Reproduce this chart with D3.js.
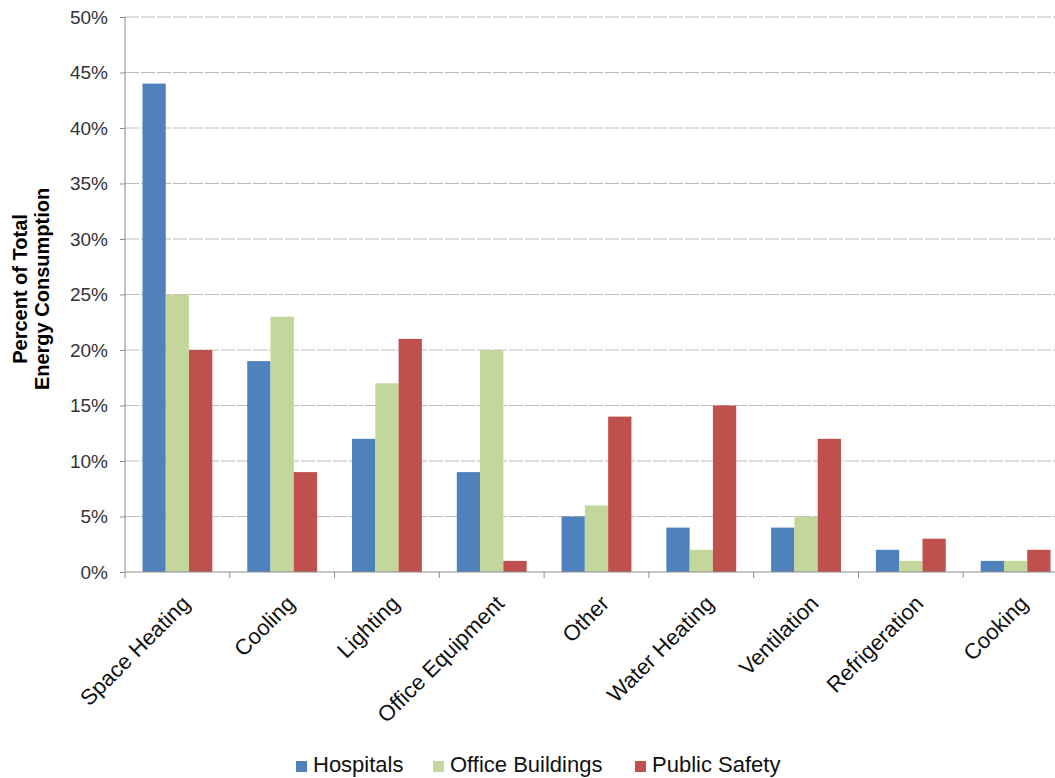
<!DOCTYPE html>
<html>
<head>
<meta charset="utf-8">
<script src="https://cdn.jsdelivr.net/npm/d3@7"></script>
<style>
  html, body { margin: 0; padding: 0; background: #fff; }
  svg { display: block; font-family: "Liberation Sans", Arial, sans-serif; }
</style>
</head>
<body>
<svg id="chart" width="1055" height="778"></svg>
<script>
// Energy end-use shares by building type
const categories = ["Space Heating", "Cooling", "Lighting", "Office Equipment", "Other",
                    "Water Heating", "Ventilation", "Refrigeration", "Cooking"];
const seriesNames = ["Hospitals", "Office Buildings", "Public Safety"];
const hospitals       = [44, 19, 12, 9, 5, 4, 4, 2, 1];
const officeBuildings = [25, 23, 17, 20, 6, 2, 5, 1, 1];
const publicSafety    = [20, 9, 21, 1, 14, 15, 12, 3, 2];
const yTicks = [0, 5, 10, 15, 20, 25, 30, 35, 40, 45, 50];
const colors = ["#4F81BD", "#C3D69B", "#C0504D"];

const seriesValues = [hospitals, officeBuildings, publicSafety];

const svg = d3.select("#chart");
const plotLeft = 125, plotRight = 1068, plotTop = 17, plotBottom = 572;

const x = d3.scaleBand().domain(categories).range([plotLeft, plotRight]).paddingInner(0).paddingOuter(0);
const barGap = 1.5; // gap width relative to one bar
const x1 = d3.scaleBand().domain(seriesNames)
  .range([x.bandwidth() * (barGap / 2) / (3 + barGap), x.bandwidth() * (1 - (barGap / 2) / (3 + barGap))]);
const y = d3.scaleLinear().domain([0, 50]).range([plotBottom, plotTop]);

// Horizontal gridlines
svg.append("g").selectAll("line").data(yTicks.filter(d => d > 0)).join("line")
  .attr("x1", plotLeft).attr("x2", plotRight)
  .attr("y1", d => y(d)).attr("y2", d => y(d))
  .attr("stroke", "#bdbdbd").attr("stroke-width", 1)
  .attr("stroke-dasharray", "14,2");

// Bars
const groups = svg.append("g").selectAll("g").data(categories).join("g")
  .attr("transform", d => `translate(${x(d)},0)`);
groups.selectAll("rect")
  .data((c, i) => seriesNames.map((s, j) => ({ s, v: seriesValues[j][i], j })))
  .join("rect")
  .attr("x", d => x1(d.s))
  .attr("width", x1.bandwidth())
  .attr("y", d => y(d.v))
  .attr("height", d => y(0) - y(d.v))
  .attr("fill", d => colors[d.j]);

// Y axis
const yAxis = d3.axisLeft(y).tickValues(yTicks).tickFormat(d => d + "%").tickSize(5).tickPadding(12);
const gy = svg.append("g").attr("transform", `translate(${plotLeft},0)`).call(yAxis);
gy.select(".domain").attr("stroke", "#8c8c8c").attr("d", `M0,${plotTop}V${plotBottom}`);
gy.selectAll(".tick line").attr("stroke", "#8c8c8c");
gy.selectAll(".tick text").attr("font-size", 19).attr("fill", "#333")
  .attr("font-family", "'Liberation Sans', Arial, sans-serif");

// X axis with category boundary ticks
svg.append("line").attr("x1", plotLeft).attr("x2", plotRight).attr("y1", plotBottom).attr("y2", plotBottom)
  .attr("stroke", "#8c8c8c");
svg.append("g").selectAll("line").data(categories).join("line")
  .attr("x1", d => x(d)).attr("x2", d => x(d))
  .attr("y1", plotBottom).attr("y2", plotBottom + 6)
  .attr("stroke", "#8c8c8c");

svg.append("g").selectAll("text").data(categories).join("text")
  .attr("transform", d => `translate(${x(d) + x.bandwidth() / 2 + 3},${plotBottom + 22}) rotate(-45)`)
  .attr("text-anchor", "end")
  .attr("dy", "0.7em")
  .attr("font-size", 22).attr("fill", "#111")
  .text(d => d);

// Y axis title
const yt = svg.append("text")
  .attr("transform", `translate(33,${289}) rotate(-90)`)
  .attr("text-anchor", "middle")
  .attr("font-size", 20).attr("font-weight", "bold").attr("fill", "#000");
yt.append("tspan").attr("x", 0).attr("dy", "-0.3em").text("Percent of Total");
yt.append("tspan").attr("x", 0).attr("dy", "1.1em").text("Energy Consumption");

// Legend
const legendX = [296, 433, 635];
const legend = svg.append("g").selectAll("g").data(seriesNames).join("g")
  .attr("transform", (d, i) => `translate(${legendX[i]},761)`);
legend.append("rect").attr("width", 11).attr("height", 11).attr("fill", (d, i) => colors[i]);
legend.append("text").attr("x", 17).attr("y", 11).attr("font-size", 22).attr("fill", "#111").text(d => d);
</script>
</body>
</html>
